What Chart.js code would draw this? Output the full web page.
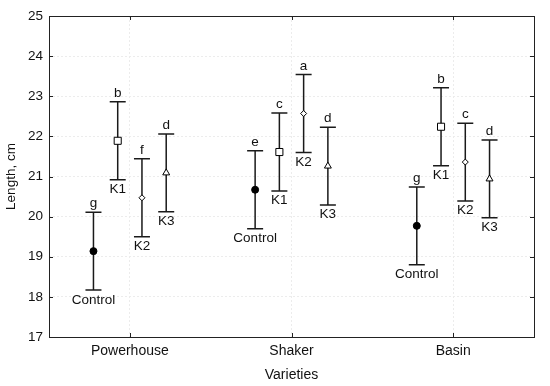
<!DOCTYPE html>
<html>
<head>
<meta charset="utf-8">
<script src="https://cdn.jsdelivr.net/npm/chart.js@4.4.0/dist/chart.umd.min.js"></script>
<style>
  html, body { margin: 0; padding: 0; background: #fff; }
  #wrap { width: 550px; height: 386px; }
</style>
</head>
<body>
<div id="wrap"><canvas id="lengthChart" width="550" height="386"></canvas></div>
<script>
// ---- data ----
const varieties = ['Powerhouse', 'Shaker', 'Basin'];
const treatments = ['Control', 'K1', 'K2', 'K3'];

const controlMean = [19.14, 20.67, 19.77];
const k1Mean = [21.89, 21.61, 22.24];
const k2Mean = [20.47, 22.57, 21.36];
const k3Mean = [21.09, 21.26, 20.94];

const controlErr = [0.97, 0.97, 0.97];
const k1Err = [0.97, 0.97, 0.97];
const k2Err = [0.97, 0.97, 0.97];
const k3Err = [0.97, 0.97, 0.97];

const controlLetters = ['g', 'e', 'g'];
const k1Letters = ['b', 'c', 'b'];
const k2Letters = ['f', 'a', 'c'];
const k3Letters = ['d', 'd', 'd'];

const yTicks = [17, 18, 19, 20, 21, 22, 23, 24, 25];

// ---- build datasets ----
const FONT = "'Liberation Sans', Arial, sans-serif";
const offsets = [-0.225, -0.075, 0.075, 0.225];
const means = [controlMean, k1Mean, k2Mean, k3Mean];
const errs = [controlErr, k1Err, k2Err, k3Err];
const letters = [controlLetters, k1Letters, k2Letters, k3Letters];
const markers = [
    { pointStyle: 'circle', pointRadius: 3.5, pointBackgroundColor: '#000' },
    { pointStyle: 'rect', pointRadius: 5, pointBackgroundColor: '#fff' },
    { pointStyle: 'rectRot', pointRadius: 3, pointBackgroundColor: '#fff' },
    { pointStyle: 'triangle', pointRadius: 4, pointBackgroundColor: '#fff' }
];

const datasets = treatments.map((name, t) => Object.assign({
    label: name,
    data: varieties.map((v, i) => ({
        x: i + offsets[t],
        y: means[t][i],
        err: errs[t][i],
        letter: letters[t][i]
    })),
    pointBorderColor: '#000',
    pointBorderWidth: 1,
    showLine: false
}, markers[t]));

// Frame, inward ticks, error bars and the text around them
const errorBarPlugin = {
    id: 'errorBars',
    beforeDatasetsDraw(chart) {
        const { ctx, chartArea: a, scales: { x, y } } = chart;
        ctx.save();

        // frame
        ctx.strokeStyle = '#222';
        ctx.lineWidth = 1;
        ctx.strokeRect(Math.round(a.left) + 0.5, Math.round(a.top) + 0.5,
            Math.round(a.right - a.left), Math.round(a.bottom - a.top));

        // inward ticks
        ctx.beginPath();
        y.ticks.forEach(tk => {
            const py = Math.round(y.getPixelForValue(tk.value)) + 0.5;
            ctx.moveTo(a.left, py); ctx.lineTo(a.left + 4, py);
            ctx.moveTo(a.right, py); ctx.lineTo(a.right - 4, py);
        });
        x.ticks.forEach(tk => {
            const px = Math.round(x.getPixelForValue(tk.value)) + 0.5;
            ctx.moveTo(px, a.top); ctx.lineTo(px, a.top + 4);
            ctx.moveTo(px, a.bottom); ctx.lineTo(px, a.bottom - 4);
        });
        ctx.stroke();

        // error bars
        ctx.strokeStyle = '#1a1a1a';
        ctx.lineWidth = 1.5;
        chart.data.datasets.forEach(ds => {
            ds.data.forEach(pt => {
                const px = x.getPixelForValue(pt.x);
                const top = y.getPixelForValue(pt.y + pt.err);
                const bot = y.getPixelForValue(pt.y - pt.err);
                ctx.beginPath();
                ctx.moveTo(px, top); ctx.lineTo(px, bot);
                ctx.moveTo(px - 8, top); ctx.lineTo(px + 8, top);
                ctx.moveTo(px - 8, bot); ctx.lineTo(px + 8, bot);
                ctx.stroke();
            });
        });
        ctx.restore();
    },
    afterDatasetsDraw(chart) {
        const { ctx, scales: { x, y } } = chart;
        ctx.save();
        ctx.fillStyle = '#111';
        ctx.font = '13.5px ' + FONT;
        ctx.textAlign = 'center';
        chart.data.datasets.forEach(ds => {
            ds.data.forEach(pt => {
                const px = x.getPixelForValue(pt.x);
                const top = y.getPixelForValue(pt.y + pt.err);
                const bot = y.getPixelForValue(pt.y - pt.err);
                ctx.textBaseline = 'bottom';
                ctx.fillText(pt.letter, px, top - 2);
                ctx.textBaseline = 'top';
                ctx.fillText(ds.label, px, bot + 3);
            });
        });
        ctx.restore();
    }
};

new Chart(document.getElementById('lengthChart'), {
    type: 'scatter',
    data: { datasets },
    options: {
        responsive: false,
        animation: false,
        layout: { padding: { top: 16, right: 16, left: 0, bottom: 0 } },
        plugins: {
            legend: { display: false },
            tooltip: { enabled: false }
        },
        scales: {
            x: {
                type: 'linear',
                min: -0.5,
                max: 2.5,
                afterBuildTicks: scale => {
                    scale.ticks = varieties.map((v, i) => ({ value: i }));
                },
                afterFit: scale => { scale.height = 49; },
                ticks: {
                    callback: v => varieties[v],
                    color: '#111',
                    padding: 6,
                    font: { family: FONT, size: 14 }
                },
                grid: { color: '#ececec', drawTicks: false },
                border: { display: false, dash: [2, 2] },
                title: {
                    display: true,
                    text: 'Varieties',
                    color: '#111',
                    padding: { top: 4, bottom: 2 },
                    font: { family: FONT, size: 14 }
                }
            },
            y: {
                min: 17,
                max: 25,
                afterBuildTicks: scale => {
                    scale.ticks = yTicks.map(v => ({ value: v }));
                },
                afterFit: scale => { scale.width = 49; },
                ticks: {
                    color: '#111',
                    padding: 6,
                    font: { family: FONT, size: 13.5 }
                },
                grid: { color: '#ececec', drawTicks: false },
                border: { display: false, dash: [2, 2] },
                title: {
                    display: true,
                    text: 'Length, cm',
                    color: '#111',
                    padding: { top: 3, bottom: 4 },
                    font: { family: FONT, size: 13.5 }
                }
            }
        }
    },
    plugins: [errorBarPlugin]
});
</script>
</body>
</html>
